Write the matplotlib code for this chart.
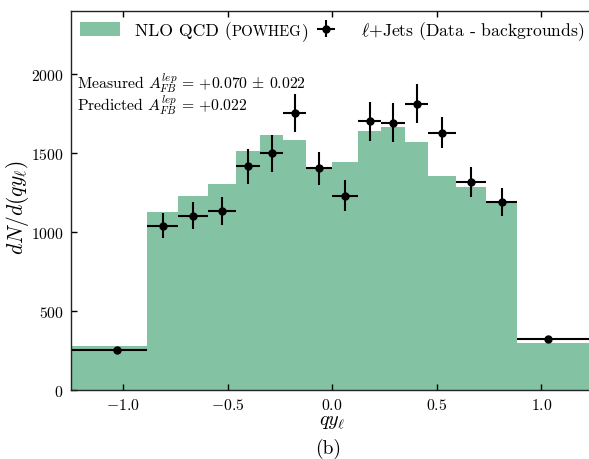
import numpy as np
import matplotlib
matplotlib.use("Agg")
import matplotlib.pyplot as plt
from matplotlib.offsetbox import TextArea, HPacker

plt.rcParams.update({
    "font.family": "serif",
    "font.serif": ["cmr10"],
    "mathtext.fontset": "cm",
    "axes.formatter.use_mathtext": True,
    "axes.unicode_minus": True,
})

# Bin edges in q*y_lepton (outer bins run past the axis range)
edges = [-1.5, -0.885, -0.735, -0.592, -0.46, -0.347, -0.233, -0.124, 0.0,
         0.124, 0.233, 0.347, 0.46, 0.592, 0.735, 0.885, 1.5]

# NLO QCD (POWHEG) prediction per bin
prediction = [277, 1128, 1230, 1304, 1511, 1614, 1584, 1403, 1441,
              1641, 1663, 1572, 1352, 1283, 1192, 297]

# Background-subtracted l+jets data
data_x_outer = [-1.03, 1.03]
data = [253, 1040, 1103, 1135, 1416, 1497, 1753, 1403, 1228,
        1700, 1690, 1812, 1627, 1315, 1188, 323]
data_err = [12, 79, 84, 89, 110, 116, 123, 105, 98,
            122, 123, 124, 98, 95, 89, 12]

measured_afb = (0.070, 0.022)
predicted_afb = 0.022

green = "#84c2a4"
fs_tick = 11.3
fs_text = 11.3
fs_leg = 12.7

edges_a = np.array(edges)
lo, hi = edges_a[:-1], edges_a[1:]
xc = 0.5 * (lo + hi)
xc[0], xc[-1] = data_x_outer
xerr = np.vstack([xc - lo, hi - xc])

fig = plt.figure(figsize=(5.89, 4.60), dpi=100)
ax = fig.add_axes([0.120, 0.150, 0.888, 0.8246])

ax.stairs(prediction, edges, fill=True, color=green, lw=0,
          label=r"NLO QCD", zorder=1)
ax.errorbar(xc, data, yerr=data_err, xerr=xerr, fmt="o", color="black",
            ms=5, elinewidth=1.5, capsize=0, zorder=3,
            label=r"$\ell$+Jets (Data - backgrounds)")

ax.set_xlim(-1.25, 1.25)
ax.set_ylim(0, 2400)
ax.set_xticks([-1.0, -0.5, 0.0, 0.5, 1.0])
ax.set_yticks([0, 500, 1000, 1500, 2000])
ax.xaxis.set_major_formatter(matplotlib.ticker.FormatStrFormatter(r"$%.1f$"))
ax.yaxis.set_major_formatter(matplotlib.ticker.FormatStrFormatter(r"$%d$"))
ax.tick_params(direction="in", top=True, right=False, length=4, width=1,
               labelsize=fs_tick, pad=5)
ax.spines["right"].set_visible(False)
for s in ax.spines.values():
    s.set_linewidth(1.0)
    s.set_color("#222222")
    s.set_zorder(4)

ax.set_xlabel(r"$qy_\ell$", fontsize=14.5, labelpad=1)
ax.set_ylabel(r"$dN/d(qy_\ell)$", fontsize=15.5, labelpad=2)
ax.yaxis.set_label_coords(-0.075, 0.483)

ax.text(0.013, 0.795,
        r"Measured $A_{FB}^{lep}\,=\,{+}%.3f\,\pm\,%.3f$" % measured_afb,
        transform=ax.transAxes, fontsize=fs_text, va="baseline")
ax.text(0.013, 0.737,
        r"Predicted $A_{FB}^{lep}\,=\,{+}%.3f$" % predicted_afb,
        transform=ax.transAxes, fontsize=fs_text, va="baseline")

leg = ax.legend(loc="upper left", bbox_to_anchor=(-0.005, 1.008), ncol=2,
                frameon=False, fontsize=fs_leg, handlelength=2.27,
                handleheight=0.8, handletextpad=0.85, columnspacing=-0.12,
                borderaxespad=0.25)

# Render the generator name in small capitals inside the first legend label
first = leg.get_texts()[0]
for col in leg._legend_handle_box.get_children():
    for item in col.get_children():
        kids = item.get_children()
        if len(kids) == 2 and isinstance(kids[1], TextArea) and kids[1]._text is first:
            props = dict(fontsize=fs_leg, family="serif")
            small = dict(fontsize=fs_leg * 0.84, family="serif")
            box = HPacker(children=[TextArea("NLO QCD (", textprops=props),
                                    TextArea("POWHEG", textprops=small),
                                    TextArea(")", textprops=props)],
                          pad=0, sep=0, align="baseline")
            box.set_figure(fig)
            kids[1] = box

fig.text(0.557, 0.014, "(b)", fontsize=14, ha="center", va="baseline")

fig.savefig("out.png", dpi=100)
